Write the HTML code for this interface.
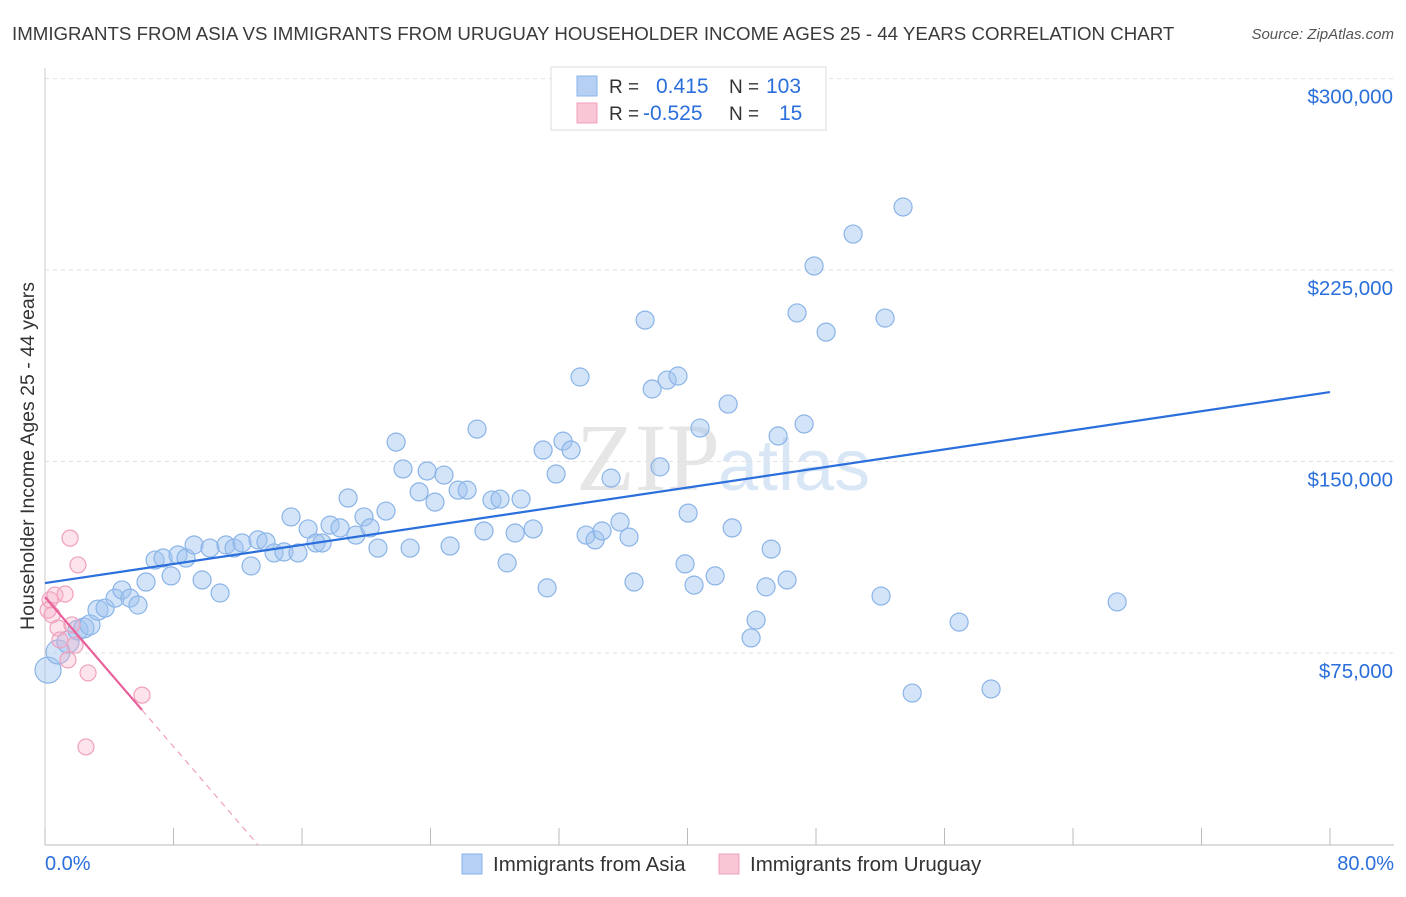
<!DOCTYPE html>
<html><head><meta charset="utf-8"><style>
body{margin:0;background:#fff;font-family:"Liberation Sans",sans-serif}
</style></head><body>
<svg id="chart" width="1406" height="892" xmlns="http://www.w3.org/2000/svg" font-family="Liberation Sans, sans-serif">
<text x="12" y="40" font-size="18.7" fill="#3a3a3a">IMMIGRANTS FROM ASIA VS IMMIGRANTS FROM URUGUAY HOUSEHOLDER INCOME AGES 25 - 44 YEARS CORRELATION CHART</text>
<text x="1394" y="39" font-size="15" fill="#555" text-anchor="end" font-style="italic">Source: ZipAtlas.com</text>
<text x="720" y="490" font-size="96" fill="#e6e6e6" text-anchor="end" font-family="Liberation Serif, serif">ZIP</text>
<text x="718" y="490" font-size="72" fill="#d8e6f6">atlas</text>
<g id="grid"></g><g id="axes"></g><g id="marks"></g>
<text transform="translate(34,456) rotate(-90)" font-size="19.5" fill="#333" text-anchor="middle">Householder Income Ages 25 - 44 years</text>
<g>
<rect x="551" y="67" width="275" height="63" fill="#fff" stroke="#ddd"/>
<rect x="577" y="76" width="20" height="20" fill="#b6d0f4" stroke="#8ab4e8"/>
<rect x="577" y="103" width="20" height="20" fill="#f9c6d6" stroke="#f0a0bc"/>
<text x="609" y="93" font-size="19" fill="#333">R =</text><text x="656" y="93" font-size="21" fill="#2a6fdb">0.415</text>
<text x="729" y="93" font-size="19" fill="#333">N =</text><text x="766" y="93" font-size="21" fill="#2a6fdb">103</text>
<text x="609" y="120" font-size="19" fill="#333">R =</text><text x="643" y="120" font-size="21" fill="#2a6fdb">-0.525</text>
<text x="729" y="120" font-size="19" fill="#333">N =</text><text x="779" y="120" font-size="21" fill="#2a6fdb">15</text>
</g>
<g>
<rect x="462" y="854" width="20" height="20" fill="#b6d0f4" stroke="#8ab4e8"/>
<text x="493" y="871" font-size="20.5" fill="#333">Immigrants from Asia</text>
<rect x="719" y="854" width="20" height="20" fill="#f9c6d6" stroke="#f0a0bc"/>
<text x="750" y="871" font-size="20.5" fill="#333">Immigrants from Uruguay</text>
</g>
</svg>
<script>
const asiaX=[0.19,0.81,1.43,2.05,2.43,2.80,3.30,3.74,4.36,4.79,5.29,5.79,6.29,6.85,7.35,7.85,8.28,8.78,9.28,9.78,10.27,10.90,11.27,11.77,12.27,12.83,13.26,13.76,14.26,14.88,15.32,15.75,16.38,16.87,17.25,17.75,18.37,18.87,19.36,19.86,20.24,20.73,21.23,21.86,22.29,22.73,23.29,23.79,24.28,24.84,25.22,25.72,26.28,26.90,27.33,27.83,28.33,28.77,29.27,29.64,30.39,31.01,31.26,31.82,32.25,32.75,33.31,33.69,34.25,34.68,35.24,35.80,36.36,36.67,37.36,37.80,38.29,38.73,39.41,39.85,40.04,40.41,40.78,41.72,42.53,42.78,43.96,44.27,44.89,45.21,45.64,46.20,46.82,47.26,47.88,48.63,50.31,52.05,52.30,53.42,53.99,56.91,58.90,66.75];
const asiaY=[68.3,75.4,79.3,84.0,84.8,86.0,91.8,92.6,96.5,99.7,96.5,93.8,102.8,111.4,112.2,105.2,113.4,112.2,117.3,103.6,116.1,98.5,117.3,116.1,118.1,109.1,119.3,118.5,114.2,114.6,128.3,114.2,123.6,118.1,118.1,125.1,124.0,135.7,121.2,128.3,124.0,116.1,130.6,157.6,147.1,116.1,138.1,146.3,134.1,144.7,116.9,138.8,138.8,162.7,122.8,134.9,135.3,110.3,122.0,135.3,123.6,154.5,100.5,145.1,158.0,154.5,183.1,121.2,119.3,122.8,143.5,126.3,120.4,102.8,205.4,178.4,147.9,181.9,183.5,109.9,129.8,101.6,163.1,105.2,172.5,124.0,80.9,87.9,100.9,115.7,160.0,103.6,208.2,164.7,226.6,200.7,239.1,97.3,206.2,249.7,59.3,87.1,60.9,95.0];
const asiaR=[13,12,11,10,10,10,10,9,9,9,9,9,9,9,9,9,9,9,9,9,9,9,9,9,9,9,9,9,9,9,9,9,9,9,9,9,9,9,9,9,9,9,9,9,9,9,9,9,9,9,9,9,9,9,9,9,9,9,9,9,9,9,9,9,9,9,9,9,9,9,9,9,9,9,9,9,9,9,9,9,9,9,9,9,9,9,9,9,9,9,9,9,9,9,9,9,9,9,9,9,9,9,9,9];
const uruX=[0.31,0.62,0.19,0.44,0.81,1.25,1.56,1.68,2.05,1.87,1.43,2.68,6.04,2.55,0.93];
const uruY=[95.8,97.7,91.8,89.9,84.8,98.1,120.0,86.0,109.5,78.1,72.3,67.2,58.5,38.2,80.1];
const asiaTrend=[102.4,177.2]; // values at 0% and 80%
const uruTrend=[96.9,-7.32]; // intercept, slope per %
const yTicks=[75000,150000,225000,300000];
const yTickLabels=["$75,000","$150,000","$225,000","$300,000"];
const xTicks=[0,8,16,24,32,40,48,56,64,72,80];
const xEndLabels=["0.0%","80.0%"];

const NS="http://www.w3.org/2000/svg";
const X=p=>45+p*16.0625;
const Y=k=>653-(k-75)*2.553;
function mk(tag,attrs,parent){const e=document.createElementNS(NS,tag);for(const k in attrs)e.setAttribute(k,attrs[k]);document.getElementById(parent).appendChild(e);return e;}
yTicks.forEach((v,i)=>{const y=Y(v/1000);
 const g=mk('line',{x1:45,x2:1394,y1:y,y2:y,stroke:'#e2e2e2','stroke-dasharray':'4,4'},'grid');
 
 
 const t=mk('text',{x:1393,y:y+25,'font-size':20.5,fill:'#2a6fdb','text-anchor':'end'},'axes');
 t.textContent=yTickLabels[i];
 
 
});
let ax=mk('line',{x1:45,x2:1394,y1:845,y2:845,stroke:'#bbb'},'axes');


let ay=mk('line',{x1:45,x2:45,y1:68,y2:845,stroke:'#ccc'},'axes');


xTicks.forEach(p=>{const t=mk('line',{x1:X(p),x2:X(p),y1:828,y2:845,stroke:'#bbb'},'axes');
 
 });
[[0,'start',45],[80,'end',1394]].forEach((d,i)=>{const t=mk('text',{x:d[2],y:870,'font-size':20,fill:'#2a6fdb','text-anchor':d[1]},'axes');
 t.textContent=xEndLabels[i];
 
 });
asiaX.forEach((p,i)=>{const c=mk('circle',{cx:X(p),cy:Y(asiaY[i]),r:asiaR[i]||9,fill:'rgba(160,196,240,0.45)',stroke:'#8ab4e8','stroke-width':1.2},'marks');
 
 });
uruX.forEach((p,i)=>{const c=mk('circle',{cx:X(p),cy:Y(uruY[i]),r:8,fill:'rgba(246,176,200,0.35)',stroke:'#f0a0bc','stroke-width':1.2},'marks');
 
 });
let l1=mk('line',{x1:X(0),y1:Y(asiaTrend[0]),x2:X(80),y2:Y(asiaTrend[1]),stroke:'#2a6fdb','stroke-width':2.2},'marks');


const uEnd=Math.max(...uruX), zero=-uruTrend[0]/uruTrend[1];
let l2=mk('line',{x1:X(0),y1:Y(uruTrend[0]),x2:X(uEnd),y2:Y(uruTrend[0]+uruTrend[1]*uEnd),stroke:'#e8609a','stroke-width':2.2},'marks');


let l3=mk('line',{x1:X(uEnd),y1:Y(uruTrend[0]+uruTrend[1]*uEnd),x2:X(zero),y2:Y(0),stroke:'#f0a0bc','stroke-width':1.2,'stroke-dasharray':'6,5'},'marks');


</script>
</body></html>
